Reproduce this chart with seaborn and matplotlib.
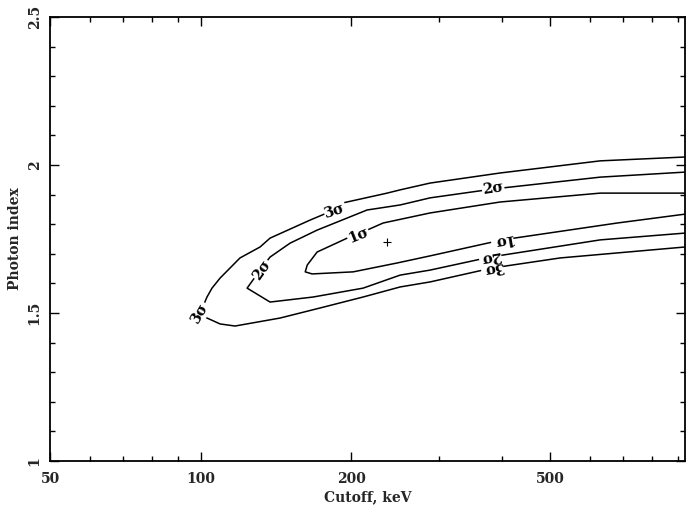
import numpy as np
import pandas as pd
import matplotlib
matplotlib.use("Agg")
import matplotlib.pyplot as plt
import seaborn as sns
from matplotlib.ticker import FixedLocator, NullFormatter, FixedFormatter

# ---- data ----
sig3_x = [930, 629.5, 397, 287.7, 250.6, 236, 192.7, 179, 165.6, 137.7, 131.5, 119.9, 109.4, 105.4, 103.0,
          99.8, 102.1, 109.4, 117.2, 144.2, 173.4, 211.3, 250.6, 287.7, 382.8, 523.6, 930]
sig3_y = [2.027, 2.014, 1.973, 1.939, 1.916, 1.905, 1.872, 1.838, 1.814, 1.753, 1.723, 1.686, 1.618, 1.584, 1.554,
          1.500, 1.486, 1.463, 1.456, 1.483, 1.517, 1.554, 1.588, 1.605, 1.652, 1.686, 1.723]

sig2_x = [930, 629.5, 384.6, 287.7, 250.6, 215.2, 171.0, 151.0, 137.7, 131.5, 123.9, 137.7, 167.9, 211.3,
          250.6, 287.7, 379.3, 629.5, 930]
sig2_y = [1.976, 1.959, 1.919, 1.889, 1.865, 1.848, 1.780, 1.736, 1.689, 1.645, 1.584, 1.537, 1.554, 1.584,
          1.628, 1.645, 1.689, 1.747, 1.770]

sig1_x = [930, 629.5, 397.1, 287.7, 231.7, 215.2, 196.4, 171.0, 163.4, 161.9, 167.1, 201.9, 247.2, 287.7,
          400.8, 680.7, 930]
sig1_y = [1.905, 1.905, 1.875, 1.838, 1.804, 1.780, 1.753, 1.706, 1.662, 1.639, 1.632, 1.639, 1.669, 1.693,
          1.747, 1.804, 1.834]

best_x = [236]
best_y = [1.74]

label_text = ["3σ", "3σ", "3σ", "2σ", "2σ", "2σ", "1σ", "1σ"]
label_x = [185.8, 99.8, 382.8, 132.7, 384.6, 379.3, 206.6, 400.8]
label_y = [1.845, 1.500, 1.652, 1.645, 1.919, 1.689, 1.764, 1.747]
label_rot = [18, 60, 190, 55, 8, 190, 22, 190]

x_major = [50, 100, 200, 500]
x_minor = [60, 70, 80, 90, 300, 400, 600, 700, 800, 900]
y_major = [1, 1.5, 2, 2.5]
y_labels = ["1", "1.5", "2", "2.5"]

# ---- plot ----
sns.set_theme(style="ticks")
plt.rcParams["font.family"] = ["DejaVu Serif", "DejaVu Sans"]

fig = plt.figure(figsize=(6.97, 5.12), dpi=100)
ax = fig.add_axes([50 / 697, 51 / 512, 635 / 697, 444 / 512])

df = pd.concat([
    pd.DataFrame({"x": sig3_x, "y": sig3_y, "lev": "3"}),
    pd.DataFrame({"x": sig2_x, "y": sig2_y, "lev": "2"}),
    pd.DataFrame({"x": sig1_x, "y": sig1_y, "lev": "1"}),
])
for lev, sub in df.groupby("lev"):
    sns.lineplot(data=sub, x="x", y="y", sort=False, estimator=None, color="black",
                 linewidth=1.1, ax=ax)

ax.plot(best_x, best_y, marker="+", color="black", markersize=6, markeredgewidth=0.8, linestyle="none")

for t, lx, ly, r in zip(label_text, label_x, label_y, label_rot):
    ax.text(lx, ly, t, rotation=r, rotation_mode="anchor", ha="center", va="center",
            fontsize=10.5, fontweight="bold", color="black",
            bbox=dict(boxstyle="square,pad=0.05", fc="white", ec="none"))

ax.set_xscale("log")
ax.set_xlim(50, 930)
ax.set_ylim(1, 2.5)

ax.xaxis.set_major_locator(FixedLocator(x_major))
ax.xaxis.set_major_formatter(FixedFormatter([str(v) for v in x_major]))
ax.xaxis.set_minor_locator(FixedLocator(x_minor))
ax.xaxis.set_minor_formatter(NullFormatter())
ax.yaxis.set_major_locator(FixedLocator(y_major))
ax.yaxis.set_major_formatter(FixedFormatter(y_labels))
ax.yaxis.set_minor_locator(FixedLocator(np.round(np.arange(1.1, 2.5, 0.1), 2)))

ax.tick_params(which="both", direction="in", top=True, right=True, color="black", width=1.0)
ax.tick_params(which="major", length=6.5, labelsize=10, pad=8)
ax.tick_params(axis="y", which="major", pad=6)
ax.tick_params(which="minor", length=3.5)
for lab in ax.get_yticklabels():
    lab.set_rotation(90)
    lab.set_va("center")
    lab.set_fontweight("bold")
for lab in ax.get_xticklabels():
    lab.set_fontweight("bold")

for s in ax.spines.values():
    s.set_linewidth(1.3)
    s.set_color("black")

ax.set_xlabel("Cutoff, keV", fontsize=10, fontweight="bold", va="center")
ax.xaxis.set_label_coords(0.5, -0.081)
ax.set_ylabel("Photon index", fontsize=10, fontweight="bold", va="center")
ax.yaxis.set_label_coords(-0.055, 0.5)

fig.savefig("out.png", dpi=100)
